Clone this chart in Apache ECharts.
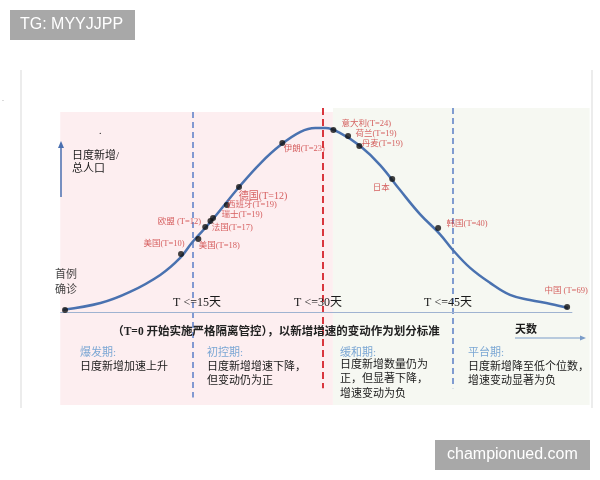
<!DOCTYPE html>
<html>
<head>
<meta charset="utf-8">
<script src="https://cdn.jsdelivr.net/npm/echarts@6/dist/echarts.min.js"></script>
<style>
  html, body { margin: 0; padding: 0; background: #fff; }
  #chartDom { width: 600px; height: 480px; }
</style>
</head>
<body>
<div id="chartDom"></div>
<script>
// curve: days since T=0 vs daily new cases / population (relative units)
const days = [0, 4.3, 7.7, 11.2, 13.5, 14.9, 17, 20.5, 22.8, 25.1, 27.4, 29.1, 30.3, 32, 34.3, 36.6, 38.9, 41.2, 43.5, 45, 47, 49.3, 51.6, 53.9, 56.3, 58.3];
const growth = [1.5, 5.1, 11.1, 20.3, 29.5, 38, 48.9, 68.9, 80.8, 90.5, 97.6, 99.7, 99.7, 97, 90, 79.7, 66.2, 53.2, 42.4, 33.8, 24.1, 16, 9.5, 6.8, 4.6, 2.4];

const countries = ['美国(T=10)', '美国(T=18)', '法国(T=17)', '欧盟 (T=12)', '瑞士(T=19)', '西班牙(T=19)', '德国(T=12)', '伊朗(T=23)', '意大利(T=24)', '荷兰(T=19)', '丹麦(T=19)', '日本', '韩国(T=40)', '中国 (T=69)'];
const countryDay = [13.6, 15.6, 16.4, 17.0, 17.3, 18.9, 20.3, 25.3, 31.2, 32.9, 34.2, 38.0, 43.3, 58.2];
const countryGrowth = [31.6, 39.7, 46.2, 49.5, 51.1, 58.1, 67.8, 91.6, 98.6, 95.4, 90.0, 72.2, 45.7, 3.0];

const firstCase = { name: '首例\n确诊', day: 0.2, growth: 1.4 };

const thresholds = [15, 30, 45];
const thresholdLabels = ['T <=15天', 'T <=30天', 'T <=45天'];

const phaseNames = ['爆发期:', '初控期:', '缓和期:', '平台期:'];
const phaseDesc = [
  ['日度新增加速上升'],
  ['日度新增增速下降，', '但变动仍为正'],
  ['日度新增数量仍为', '正，但显著下降，', '增速变动为负'],
  ['日度新增降至低个位数，', '增速变动显著为负']
];

const SERIF = "'Liberation Serif', 'Noto Sans CJK SC', serif";
const RED = '#cc3a3a';

// label offsets (px) around each point
const labelOffset = {
  '美国(T=10)': [-17, -10], '美国(T=18)': [21, 7], '法国(T=17)': [27, 1],
  '欧盟 (T=12)': [-31, 1], '瑞士(T=19)': [29, -3], '西班牙(T=19)': [25, 0],
  '德国(T=12)': [24, 9], '伊朗(T=23)': [22, 6], '意大利(T=24)': [33, -6],
  '荷兰(T=19)': [28, -2], '丹麦(T=19)': [23, -2], '日本': [-11, 9],
  '韩国(T=40)': [29, -4], '中国 (T=69)': [-1, -16]
};

const chart = echarts.init(document.getElementById('chartDom'));

const pointData = countries.map((c, i) => ({
  name: c,
  value: [countryDay[i], countryGrowth[i]],
  label: {
    show: true,
    position: 'inside',
    offset: labelOffset[c],
    formatter: c,
    color: RED,
    fontSize: c === '德国(T=12)' ? 10 : 8.5,
    fontFamily: SERIF
  }
}));
pointData.push({
  name: firstCase.name,
  value: [firstCase.day, firstCase.growth],
  label: {
    show: true,
    position: 'inside',
    offset: [1, -27],
    formatter: firstCase.name,
    color: '#111',
    fontSize: 11,
    lineHeight: 15,
    fontFamily: SERIF
  }
});

const textEl = (text, x, y, opt) => ({
  type: 'text',
  z: 40,
  style: Object.assign({
    text, x, y,
    fill: '#1a1a1a',
    fontSize: 11,
    fontFamily: SERIF,
    textVerticalAlign: 'middle'
  }, opt || {})
});

const phaseX = [80, 207, 340, 468];
const graphics = [
  { type: 'line', shape: { x1: 21, y1: 70, x2: 21, y2: 408 }, style: { stroke: '#d9d9d9', lineWidth: 1 } },
  { type: 'line', shape: { x1: 592, y1: 70, x2: 592, y2: 408 }, style: { stroke: '#d9d9d9', lineWidth: 1 } },
  { type: 'rect', shape: { x: 10, y: 10, width: 125, height: 30 }, style: { fill: '#a8a8a8' }, z: 30 },
  textEl('TG: MYYJJPP', 20, 25, { fill: '#fff', fontSize: 16, fontFamily: "'Liberation Sans', Arial, sans-serif" }),
  { type: 'rect', shape: { x: 435, y: 440, width: 155, height: 30 }, style: { fill: '#a8a8a8' }, z: 30 },
  textEl('championued.com', 447, 455, { fill: '#fff', fontSize: 16, fontFamily: "'Liberation Sans', Arial, sans-serif" }),
  textEl('.', 99, 131, { fontSize: 10 }),
  textEl('.', 2, 99, { fontSize: 8, fill: '#888' }),
  // y arrow
  { type: 'line', z: 20, shape: { x1: 61, y1: 197, x2: 61, y2: 146 }, style: { stroke: '#4a6fb0', lineWidth: 1.5 } },
  { type: 'polygon', z: 20, shape: { points: [[58, 148], [64, 148], [61, 141]] }, style: { fill: '#4a6fb0' } },
  textEl('日度新增/', 72, 156),
  textEl('总人口', 72, 169),
  // x arrow
  { type: 'line', z: 20, shape: { x1: 515, y1: 338, x2: 582, y2: 338 }, style: { stroke: '#7a9cc8', lineWidth: 1 } },
  { type: 'polygon', z: 20, shape: { points: [[580, 335.5], [580, 340.5], [586, 338]] }, style: { fill: '#7a9cc8' } },
  textEl('天数', 515, 330, { fontWeight: 'bold' }),
  textEl('（T=0 开始实施严格隔离管控），以新增增速的变动作为划分标准', 276, 332, { textAlign: 'center', fontSize: 11.5, fontWeight: 'bold', fill: '#222' })
];
thresholds.forEach((t, i) => {
  graphics.push(textEl(thresholdLabels[i], [197, 318, 448][i], 303, { textAlign: 'center', fontSize: 12 }));
});
phaseNames.forEach((p, i) => {
  graphics.push(textEl(p, phaseX[i], 353, { fill: '#7ba7d4' }));
  phaseDesc[i].forEach((line, j) => {
    graphics.push(textEl(line, phaseX[i], (i === 2 ? 365 : 367) + j * 14.5));
  });
});

const option = {
  animation: false,
  grid: { left: 20, right: 0, top: 72, bottom: 75 },
  xAxis: { type: 'value', min: -5, max: 62, show: false, splitLine: { show: false } },
  yAxis: { type: 'value', min: -50, max: 130, show: false, splitLine: { show: false } },
  graphic: graphics,
  series: [
    {
      type: 'line',
      name: 'curve',
      data: days.map((d, i) => [d, growth[i]]),
      smooth: 0.4,
      showSymbol: false,
      z: 5,
      lineStyle: { color: '#4a72b0', width: 2.5 },
      markArea: {
        silent: true,
        z: 1,
        data: [
          [{ coord: [-0.35, 108.4], itemStyle: { color: '#fdeef0' } }, { coord: [31.15, -50] }],
          [{ coord: [31.15, 110.5], itemStyle: { color: '#f6f8f2' } }, { coord: [60.8, -50] }]
        ]
      },
      markLine: {
        silent: true,
        symbol: 'none',
        label: { show: false },
        data: [
          [{ coord: [thresholds[0], 108.4], lineStyle: { color: '#5a7ec6', width: 1.5, type: [6, 4] } }, { coord: [thresholds[0], -46] }],
          [{ coord: [thresholds[1], 110.5], lineStyle: { color: '#d9363e', width: 2, type: [7, 4] } }, { coord: [thresholds[1], -41] }],
          [{ coord: [thresholds[2], 110.5], lineStyle: { color: '#5a7ec6', width: 1.5, type: [6, 4] } }, { coord: [thresholds[2], -41] }],
          [{ coord: [-0.35, 0], lineStyle: { color: '#9fb3d1', width: 1.2, type: 'solid' } }, { coord: [58.8, 0] }]
        ]
      }
    },
    {
      type: 'scatter',
      name: 'countries',
      z: 10,
      symbolSize: 6,
      itemStyle: { color: '#111' },
      data: pointData
    }
  ]
};

chart.setOption(option);
</script>
</body>
</html>
